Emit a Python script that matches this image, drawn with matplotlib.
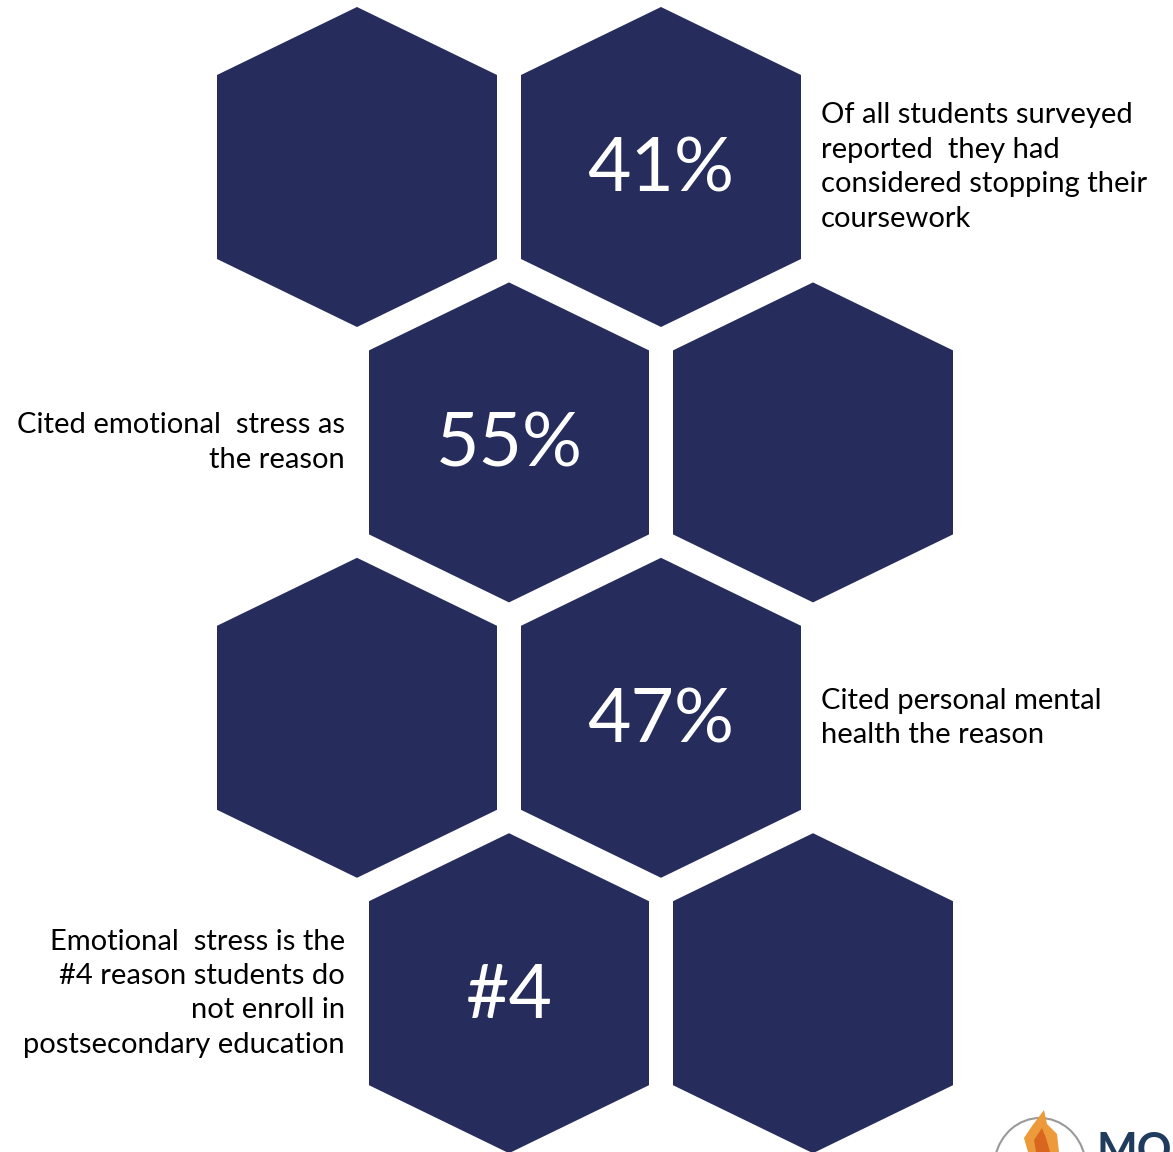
import numpy as np
import matplotlib.pyplot as plt
from matplotlib.patches import Polygon, Arc

plt.rcParams['font.family'] = ['Lato', 'DejaVu Sans']

# infographic content: one labelled hexagon per row
stats = ['41%', '55%', '47%', '#4']
notes = [
    'Of all students surveyed\nreported  they had\nconsidered stopping their\ncoursework',
    'Cited emotional  stress as\nthe reason',
    'Cited personal mental\nhealth the reason',
    'Emotional  stress is the\n#4 reason students do\nnot enroll in\npostsecondary education',
]
label_col = [1, 0, 1, 0]   # which hex in the row carries the number
note_side = ['right', 'left', 'right', 'left']

navy = '#262d5c'
W, H = 1173, 1152

fig = plt.figure(figsize=(W / 100, H / 100), dpi=100)
ax = fig.add_axes([0, 0, 1, 1])
ax.set_xlim(0, W)
ax.set_ylim(H, 0)
ax.axis('off')

hw, hh, sh = 140, 160, 92


def hexagon(cx, cy):
    pts = [(cx, cy - hh), (cx + hw, cy - sh), (cx + hw, cy + sh),
           (cx, cy + hh), (cx - hw, cy + sh), (cx - hw, cy - sh)]
    return Polygon(pts, closed=True, facecolor=navy, edgecolor='none')


for row in range(4):
    cy = 167 + 275.4 * row
    x0 = 357 + 152 * (row % 2)
    for col in range(2):
        cx = x0 + 304 * col
        ax.add_patch(hexagon(cx, cy))
        if col == label_col[row]:
            ax.text(cx, cy + 3, stats[row], color='white', fontsize=54,
                    ha='center', va='center')
    if note_side[row] == 'right':
        ax.text(821, cy, notes[row], fontsize=21, ha='left', va='center',
                linespacing=1.4, color='black')
    else:
        ax.text(345, cy, notes[row], fontsize=21, ha='right', va='center',
                multialignment='right', linespacing=1.4, color='black')

# partial logo in the corner
ax.add_patch(Arc((1040, 1168), 92, 100, theta1=195, theta2=345,
                 color='#9a9a9a', lw=1.5))
flame = Polygon([(1028, 1152), (1024, 1138), (1032, 1126), (1044, 1110),
                 (1047, 1124), (1057, 1134), (1059, 1152)],
                closed=True, facecolor='#ec9a3a', edgecolor='none')
inner = Polygon([(1036, 1152), (1034, 1140), (1042, 1128), (1046, 1138),
                 (1050, 1152)],
                closed=True, facecolor='#d9661f', edgecolor='none')
ax.add_patch(flame)
ax.add_patch(inner)
ax.text(1096, 1164, 'MON', fontsize=31, fontweight='bold', color='#1f3b5e',
        ha='left', va='baseline', clip_on=True)

fig.savefig('out.png', dpi=100)
